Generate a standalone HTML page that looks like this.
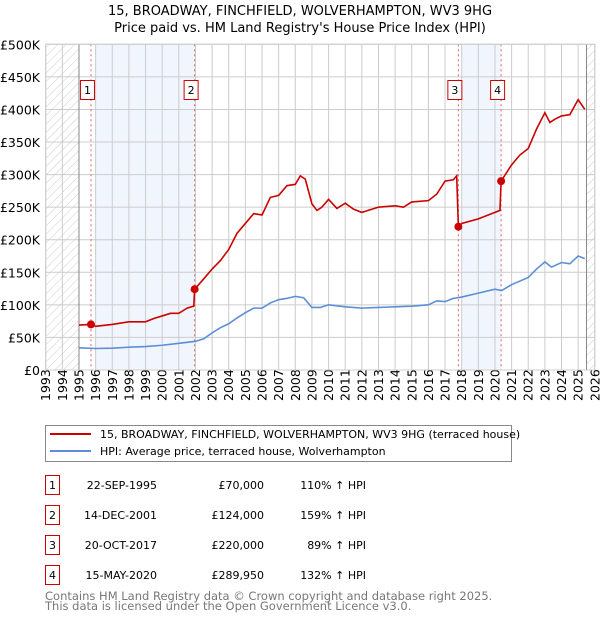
<!DOCTYPE html>
<html><head><meta charset="utf-8">
<style>
body{margin:0;background:#fff;font-family:"DejaVu Sans","Liberation Sans",sans-serif;}
svg text{font-family:"DejaVu Sans","Liberation Sans",sans-serif;}
</style></head>
<body>
<svg id="chart" width="600" height="620" xmlns="http://www.w3.org/2000/svg">
<defs>
<pattern id="hatch" patternUnits="userSpaceOnUse" width="6" height="6" patternTransform="rotate(45)">
<line x1="0" y1="0" x2="0" y2="6" stroke="#ccc" stroke-width="1"/>
</pattern>
</defs>
<text x="300" y="15" text-anchor="middle" font-size="13" fill="#000">15, BROADWAY, FINCHFIELD, WOLVERHAMPTON, WV3 9HG</text>
<text x="300" y="32" text-anchor="middle" font-size="13" fill="#000">Price paid vs. HM Land Registry's House Price Index (HPI)</text>
<g id="plot"></g>
<g>
<rect x="45.5" y="425.5" width="466" height="36" fill="#fff" stroke="#888"/>
<line x1="50" y1="434" x2="91" y2="434" stroke="#cc0000" stroke-width="2"/>
<text x="100" y="438" font-size="11">15, BROADWAY, FINCHFIELD, WOLVERHAMPTON, WV3 9HG (terraced house)</text>
<line x1="50" y1="451" x2="91" y2="451" stroke="#5b8ed6" stroke-width="2"/>
<text x="100" y="455" font-size="11">HPI: Average price, terraced house, Wolverhampton</text>
</g>
<g id="table" font-size="11"></g>
<text x="45" y="600" font-size="11.5" fill="#777">Contains HM Land Registry data © Crown copyright and database right 2025.</text>
<text x="45" y="610" font-size="11.5" fill="#777">This data is licensed under the Open Government Licence v3.0.</text>
</svg>
<script>
const hpiYears=[1995,1996,1997,1998,1999,2000,2001,2002,2002.5,2003,2003.5,2004,2004.5,2005,2005.5,2006,2006.5,2007,2007.5,2008,2008.5,2009,2009.5,2010,2011,2012,2013,2014,2015,2016,2016.5,2017,2017.5,2018,2019,2020,2020.4,2021,2022,2022.5,2023,2023.4,2024,2024.5,2025,2025.4];
const hpiValues=[34,33,33.5,35,36,38,41,44,48,57,65,71,80,88,95,95,103,108,110,113,111,96,96,100,97,95,96,97,98,100,106,105,110,112,118,124,122,131,142,155,166,158,165,163,175,171];
const priceYears=[1995,1995.72,1996,1997,1998,1999,1999.5,2000,2000.5,2001,2001.5,2001.9,2001.95,2002.5,2003,2003.5,2004,2004.5,2005,2005.5,2006,2006.5,2007,2007.5,2008,2008.3,2008.6,2009,2009.3,2009.6,2010,2010.5,2011,2011.5,2012,2013,2014,2014.5,2015,2016,2016.5,2017,2017.5,2017.7,2017.8,2018,2019,2020,2020.3,2020.37,2021,2021.5,2022,2022.5,2023,2023.3,2023.6,2024,2024.5,2025,2025.4];
const priceValues=[69,70,67,70,74,74,79,83,87,87,95,98,124,140,155,168,185,210,225,240,238,265,268,283,285,298,293,255,245,250,262,248,256,247,242,250,252,250,258,260,270,290,292,298,220,225,232,242,245,290,315,330,340,370,395,380,385,390,392,415,400];
const saleLabels=["1","2","3","4"];
const saleDates=[1995.72,2001.95,2017.8,2020.37];
const saleValues=[70,124,220,289.95];
const saleDateText=["22-SEP-1995","14-DEC-2001","20-OCT-2017","15-MAY-2020"];
const salePriceText=["£70,000","£124,000","£220,000","£289,950"];
const saleHpiText=["110% ↑ HPI","159% ↑ HPI","89% ↑ HPI","132% ↑ HPI"];
const yTicks=[0,50,100,150,200,250,300,350,400,450,500];
const yTickLabels=["£0","£50K","£100K","£150K","£200K","£250K","£300K","£350K","£400K","£450K","£500K"];
const xTicks=[1993,1994,1995,1996,1997,1998,1999,2000,2001,2002,2003,2004,2005,2006,2007,2008,2009,2010,2011,2012,2013,2014,2015,2016,2017,2018,2019,2020,2021,2022,2023,2024,2025,2026];

const X0=45.7,X1=594.8,Y0=370,Y1=44.3;
function xs(t){return X0+(t-1993)/(2026-1993)*(X1-X0);}
function ys(v){return Y0-v/500*(Y0-Y1);}
const NS="http://www.w3.org/2000/svg";
function mk(tag,attrs,parent,text){const e=document.createElementNS(NS,tag);for(const k in attrs)e.setAttribute(k,attrs[k]);if(text!==undefined)e.textContent=text;parent.appendChild(e);return e;}
const plot=document.getElementById('plot');
// hatched regions
let h=mk('rect',{x:xs(1993),y:Y1,width:xs(1995)-xs(1993),height:Y0-Y1,fill:'url(#hatch)'},plot);


h=mk('rect',{x:xs(2025.5),y:Y1,width:xs(2026)-xs(2025.5),height:Y0-Y1,fill:'url(#hatch)'},plot);


// shaded bands
[[1996,saleDates[1]],[2018,saleDates[3]]].forEach((b,i)=>{
 const r=mk('rect',{x:xs(b[0]),y:Y1,width:xs(b[1])-xs(b[0]),height:Y0-Y1,fill:'#eef3fc',opacity:0.8},plot);
 
 
});
// grid
xTicks.forEach(t=>{
 const l=mk('line',{x1:xs(t),x2:xs(t),y1:Y1,y2:Y0,stroke:'#ccc','stroke-width':1},plot);
 
 
 const tx=mk('text',{x:0,y:0,transform:`translate(${xs(t)+4.5},${Y0+31}) rotate(-90)`,'font-size':12.5,fill:'#000'},plot,String(t));
 
 
});
yTicks.forEach((v,i)=>{
 const l=mk('line',{x1:X0,x2:X1,y1:ys(v),y2:ys(v),stroke:'#ccc','stroke-width':1},plot);
 
 
 const tx=mk('text',{x:40,y:ys(v)+5,'text-anchor':'end','font-size':12.5,fill:'#000'},plot,yTickLabels[i]);
 
 
});
// data boundaries
[1995,2025.5].forEach(t=>{
 const l=mk('line',{x1:xs(t),x2:xs(t),y1:Y1,y2:Y0,stroke:'#888','stroke-width':1},plot);
 
 
});
// sale dashed lines
saleDates.forEach(d=>{
 const l=mk('line',{x1:xs(d),x2:xs(d),y1:Y1,y2:Y0,stroke:'#e06060','stroke-width':1,'stroke-dasharray':'2,3'},plot);
 
 
});
// lines
let p=mk('polyline',{points:hpiYears.map((t,i)=>xs(t)+','+ys(hpiValues[i])).join(' '),fill:'none',stroke:'#5b8ed6','stroke-width':1.6},plot);


p=mk('polyline',{points:priceYears.map((t,i)=>xs(t)+','+ys(priceValues[i])).join(' '),fill:'none',stroke:'#cc0000','stroke-width':1.6},plot);


// sale points and labels
saleDates.forEach((d,i)=>{
 const c=mk('circle',{cx:xs(d),cy:ys(saleValues[i]),r:4,fill:'#cc0000'},plot);
 
 
 const g=mk('g',{},plot);
 
 
 const cx=xs(d)-3.5;
 mk('rect',{x:cx-7,y:80.5,width:14,height:19,fill:'#fff',stroke:'#cc0000'},g);
 mk('text',{x:cx,y:94,'text-anchor':'middle','font-size':11},g,saleLabels[i]);
});
// plot frame
let f=mk('rect',{x:X0,y:Y1,width:X1-X0,height:Y0-Y1,fill:'none',stroke:'#ccc'},plot);


// table
const tb=document.getElementById('table');
saleLabels.forEach((s,i)=>{
 const y=475+30*i;
 const g=mk('g',{},tb);
 
 
 mk('rect',{x:45.5,y:y+0.5,width:14,height:19,fill:'#fff',stroke:'#cc0000'},g);
 mk('text',{x:52.5,y:y+14,'text-anchor':'middle'},g,s);
 mk('text',{x:157,y:y+14,'text-anchor':'end'},g,saleDateText[i]);
 mk('text',{x:264,y:y+14,'text-anchor':'end'},g,salePriceText[i]);
 mk('text',{x:366,y:y+14,'text-anchor':'end'},g,saleHpiText[i]);
});
</script>
</body></html>
